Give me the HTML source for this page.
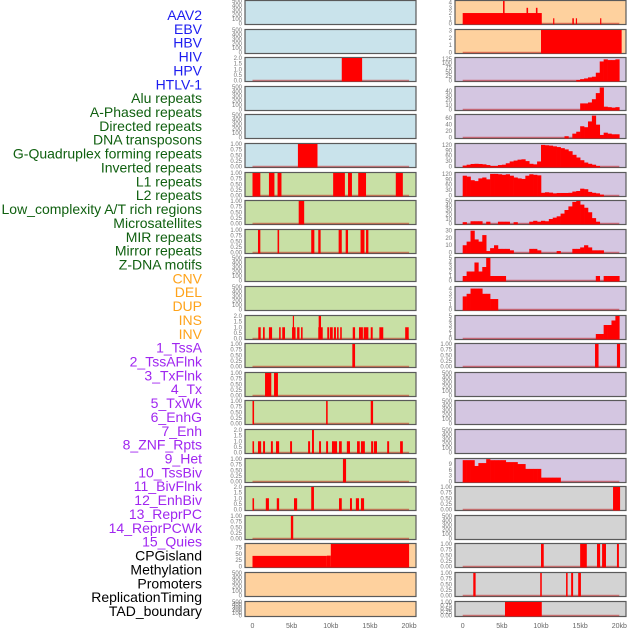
<!DOCTYPE html>
<html><head><meta charset="utf-8"><style>
html,body{margin:0;padding:0;background:#fff;}
svg{display:block;font-family:"Liberation Sans",sans-serif;}
</style></head><body>
<svg id="chart" width="630" height="630" viewBox="0 0 630 630" xmlns="http://www.w3.org/2000/svg"></svg>
<script>
// ---- track labels ----
const trackLabels = ["AAV2","EBV","HBV","HIV","HPV","HTLV-1","Alu repeats","A-Phased repeats","Directed repeats","DNA transposons","G-Quadruplex forming repeats","Inverted repeats","L1 repeats","L2 repeats","Low_complexity A/T rich regions","Microsatellites","MIR repeats","Mirror repeats","Z-DNA motifs","CNV","DEL","DUP","INS","INV","1_TssA","2_TssAFlnk","3_TxFlnk","4_Tx","5_TxWk","6_EnhG","7_Enh","8_ZNF_Rpts","9_Het","10_TssBiv","11_BivFlnk","12_EnhBiv","13_ReprPC","14_ReprPCWk","15_Quies","CPGisland","Methylation","Promoters","ReplicationTiming","TAD_boundary"];
const labelGroups = ["v","v","v","v","v","v","r","r","r","r","r","r","r","r","r","r","r","r","r","s","s","s","s","s","c","c","c","c","c","c","c","c","c","c","c","c","c","c","c","o","o","o","o","o"];
const xTickValues = [0,5,10,15,20];
const xTickLabels = ["0","5kb","10kb","15kb","20kb"];
// ---- tick sets ----
const ticks500 = [0,100,200,300,400,500];
const ticks1 = [0,0.25,0.5,0.75,1];
const ticks2 = [0,0.5,1,1.5,2];
// ---- segment data [startKb, endKb, value] ----
const hbvSeg = [[11.4,14.0,2]];
const htlvSeg = [[5.8,8.3,1]];
const aluSeg = [[0,1.0,1],[2.1,2.8,1],[3.2,3.7,1],[10.3,11.8,1],[12.2,12.7,1],[13.5,14.5,1],[18.3,19.2,1]];
const aphasedSeg = [[5.9,6.6,1]];
const directedSeg = [[0.7,1.0,1],[3.2,3.4,1],[7.5,7.9,1],[8.4,8.7,1],[11.0,11.4,1],[11.9,12.2,1],[13.8,14.3,1],[14.5,14.8,1]];
const invertedSeg = [[0.74,1.05,1],[1.34,1.56,1],[2.1,2.5,1],[3.4,3.6,1],[3.8,4.15,1],[5.05,5.5,1],[5.15,5.3,2],[5.7,6.0,1],[6.2,6.4,1],[8.4,8.97,1],[8.45,8.75,2],[9.55,9.8,1],[9.9,10.25,1],[10.4,10.66,1],[10.8,11.0,1],[11.2,11.4,1],[12.8,13.1,1],[13.6,14.1,1],[14.2,14.8,1],[15.1,15.35,1],[16.2,16.7,1],[19.5,19.95,1]];
const l1Seg = [[12.75,13.1,1]];
const l2Seg = [[1.6,2.4,1],[2.75,3.25,1]];
const lowcSeg = [[0,0.2,1],[9.4,9.6,1],[15.1,15.4,1]];
const microSeg = [[0,0.2,1],[0.7,1.1,1],[1.35,1.6,1],[2.35,2.6,1],[3.0,3.4,1],[4.8,5.05,1],[7.1,7.35,1],[7.6,7.85,2],[8.5,8.75,1],[9.4,9.65,1],[10.15,10.8,1],[11.05,11.4,1],[12.05,12.45,1],[13.35,13.7,1],[13.85,14.35,1],[15.15,15.4,1],[15.5,15.9,1],[17.2,17.45,1],[18.85,19.2,1]];
const mirSeg = [[11.55,11.95,1]];
const mirrorSeg = [[0,0.2,1],[1.7,2.1,1],[3.1,3.4,1],[5.3,5.7,1],[7.5,7.85,2],[11.05,11.4,1],[12.45,12.7,1],[13.2,13.6,1],[13.85,14.25,1]];
const zdnaSeg = [[4.9,5.2,1]];
const cnvSeg = [[0,9.5,42],[9.5,10,43],[10,20,90]];
const insSeg = [[0,10.1,2],[5.15,5.35,4.3],[8.15,8.35,3],[9.35,9.55,3],[11.55,11.7,1],[14.0,14.2,1],[14.45,14.6,1],[17.55,17.7,1]];
const invSeg = [[10.0,20.3,3.1]];
const bivflnkSeg = [[16.9,17.35,1],[19.7,20.1,1]];
const cpgSeg = [[19.2,20.1,1]];
const promSeg = [[10.0,10.35,1],[15.0,15.85,1],[17.15,17.55,1],[17.8,18.3,1],[19.7,19.95,1]];
const repSeg = [[1.35,1.65,1],[9.9,10.1,1],[13.2,13.4,1],[13.85,14.1,1],[14.75,15.1,1]];
const tadSeg = [[5.4,10.1,1]];
// ---- histogram data (0.5 kb bins, 0..20 kb) ----
const tssaBins = [0,0,0,0,0,0,0,0,0,0,0,0,0,0,0,0,0,0,0,0,0,0,0,0,0,0,0,0,0,3,8,12,18,22,45,110,122,118,118,122];
const tssaflnkBins = [0,0,0,0,0,0,0,0,0,0,0,0,0,0,0,0,0,0,0,0,0,0,0,0,0,0,0,0,0,0,13,13,15,22,35,47,6,5,4,5];
const txflnkBins = [0,0,0,0,0,0,0,0,0,0,0,0,0,0,0,0,0,0,0,0,0,0,0,0,0,0,4,0,12,18,35,32,50,68,40,8,15,12,10,10];
const txBins = [5,10,14,15,14,12,8,3,3,8,10,18,28,33,38,40,30,15,12,28,120,118,116,112,108,102,95,85,65,50,35,22,15,10,3,0,0,0,0,0];
const txwkBins = [110,105,85,80,95,100,90,120,120,118,115,118,110,100,95,92,110,118,115,112,15,18,16,12,14,14,14,15,22,25,38,35,20,15,12,5,0,0,0,0];
const enhgBins = [3,0,5,5,5,0,4,0,0,4,4,4,0,3,0,0,0,4,6,4,6,5,10,13,16,22,30,38,48,50,42,35,25,12,4,0,0,0,0,0];
const enhBins = [10,15,30,18,15,24,2,6,10,5,5,5,3,0,0,0,0,5,5,3,0,0,0,0,2,0,0,0,5,5,7,10,7,3,3,3,0,0,0,0];
const znfBins = [1,2,2,4,2,3,5,1,1,1,1,0,0,0,0,0,0,0,0,0,0,0,0,0,0,0,0,0,0,0,0,0,0,0,1,0,1,1,1,1];
const hetBins = [2.5,3,4,4,4,3,3,2,2,0,0,0,0,0,0,0,0,0,0,0,0,0,0,0,0,0,0,0,0,0,0,0,0,0,0,0,0,0,0,0];
const tssbivBins = [0,0,0,0,0,0,0,0,0,0,0,0,0,0,0,0,0,0,0,0,0,0,0,0,0,0,0,0,0,0,0,0,0,0,1,1,3,3,4,5];
const quiesBins = [11,11,11,8,9.5,9.5,11.5,11,11,11,11,10,10,10,9,9,6.5,6.5,6.5,6.5,2,2,2,2,2,0,0,0,0,0,0,0,0,0,0,0,0,0,0,0];

const BLUE="#c9e3eb", GREEN="#c8e0a5", ORANGE="#fed19e", PURPLE="#d4c6e1", GREY="#d3d3d3";
// panel list: [column, bg, ticks, ymax, kind, data]
const leftPanels = [
 [BLUE,ticks500,500,null,null],[BLUE,ticks500,500,null,null],[BLUE,ticks2,2,"seg",hbvSeg],[BLUE,ticks500,500,null,null],[BLUE,ticks500,500,null,null],[BLUE,ticks1,1,"seg",htlvSeg],
 [GREEN,ticks1,1,"seg",aluSeg],[GREEN,ticks1,1,"seg",aphasedSeg],[GREEN,ticks1,1,"seg",directedSeg],[GREEN,ticks500,500,null,null],[GREEN,ticks500,500,null,null],
 [GREEN,ticks2,2,"seg",invertedSeg],[GREEN,ticks1,1,"seg",l1Seg],[GREEN,ticks1,1,"seg",l2Seg],[GREEN,ticks1,1,"seg",lowcSeg],[GREEN,ticks2,2,"seg",microSeg],
 [GREEN,ticks1,1,"seg",mirSeg],[GREEN,ticks2,2,"seg",mirrorSeg],[GREEN,ticks1,1,"seg",zdnaSeg],
 [ORANGE,[0,25,50,75],89,"seg",cnvSeg],[ORANGE,ticks500,500,null,null],[ORANGE,ticks500,500,null,null]];
const rightPanels = [
 [ORANGE,[0,1,2,3,4],4.3,"seg",insSeg],[ORANGE,[0,1,2,3],3.1,"seg",invSeg],
 [PURPLE,[0,25,50,75,100,125],130,"hist",tssaBins],[PURPLE,[0,10,20,30,40],48,"hist",tssaflnkBins],[PURPLE,[0,20,40,60],70,"hist",txflnkBins],
 [PURPLE,[0,30,60,90,120],125,"hist",txBins],[PURPLE,[0,30,60,90,120],125,"hist",txwkBins],[PURPLE,[0,10,20,30,40,50],50,"hist",enhgBins],
 [PURPLE,[0,10,20,30],31,"hist",enhBins],[PURPLE,[0,1,2,3,4,5],5,"hist",znfBins],[PURPLE,[0,1,2,3,4],4.3,"hist",hetBins],
 [PURPLE,[0,1,2,3,4,5],5,"hist",tssbivBins],[PURPLE,ticks1,1,"seg",bivflnkSeg],[PURPLE,ticks500,500,null,null],[PURPLE,ticks500,500,null,null],
 [PURPLE,ticks500,500,null,null],[PURPLE,[0,3,6,9],11.6,"hist",quiesBins],
 [GREY,ticks1,1,"seg",cpgSeg],[GREY,ticks500,500,null,null],[GREY,ticks1,1,"seg",promSeg],[GREY,ticks1,1,"seg",repSeg],[GREY,ticks1,1,"seg",tadSeg]];

const NS="http://www.w3.org/2000/svg";
const svg=document.getElementById("chart");
function mk(tag,attrs,parent){const e=document.createElementNS(NS,tag);for(const k in attrs)e.setAttribute(k,attrs[k]);(parent||svg).appendChild(e);return e;}
const PX=7.83;
const colCfg=[{x0:252.5,left:245,right:416,tickX:242},{x0:462.7,left:455,right:626,tickX:452}];
function xs(col,kb){return colCfg[col].x0+kb*PX;}
function panelTop(i){return Math.round(i*28.6);}
function panelH(i){return i===21?16:25;}
function fmtTick(t,ticks){
  if(ticks===ticks1) return t.toFixed(2);
  if(ticks===ticks2) return t.toFixed(1);
  return String(t);
}
const labelColors={v:"#1c1cf0",r:"#106010",s:"#ffa31a",c:"#a026f0",o:"#000"};
trackLabels.forEach((lab,i)=>{
  const t=mk("text",{x:202,y:15+i*13.86+5,"text-anchor":"end","font-size":"14",fill:labelColors[labelGroups[i]]});
  
  
  t.textContent=lab;
});
function drawCol(col,panels){
  const c=colCfg[col];
  panels.forEach((p,i)=>{
    const [bg,ticks,ymax,kind,data]=p;
    const top=panelTop(i),h=panelH(i);
    const base=top+h-1.5, span=h-2.5;
    const ys=v=>base-Math.min(v,ymax)/ymax*span;
    const g=mk("g",{});
    
    
    mk("rect",{x:c.left,y:top+0.5,width:c.right-c.left,height:h-1,fill:bg,stroke:"#5a5a5a","stroke-width":1.2},g);
    ticks.forEach(t=>{
      const tx=mk("text",{x:c.tickX,y:ys(t)+2,"text-anchor":"end","font-size":"6",fill:"#777"},g);
      
      
      tx.textContent=fmtTick(t,ticks);
    });
    if(kind){
      mk("line",{x1:xs(col,0),x2:xs(col,20),y1:base,y2:base,stroke:"rgba(190,0,0,0.45)","stroke-width":1.6},g);
    }
    if(kind==="seg"){
      data.forEach(s=>{
        const x1=xs(col,s[0]),x2=xs(col,s[1]);
        const r=mk("rect",{x:x1,y:ys(s[2]),width:Math.max(1.2,x2-x1),height:base-ys(s[2])+1,fill:"#ff0000"},g);
        
        
      });
    } else if(kind==="hist"){
      data.forEach((v,k)=>{
        if(v<=0) return;
        const x1=xs(col,k*0.5),x2=xs(col,(k+1)*0.5);
        const r=mk("rect",{x:x1,y:ys(v),width:x2-x1+0.3,height:base-ys(v)+1,fill:"#ff0000"},g);
        
        
      });
    }
  });
  xTickValues.forEach((v,k)=>{
    const t=mk("text",{x:xs(col,v),y:628,"text-anchor":"middle","font-size":"7",fill:"#666"});
    
    
    t.textContent=xTickLabels[k];
  });
}
drawCol(0,leftPanels);
drawCol(1,rightPanels);
</script>
</body></html>
